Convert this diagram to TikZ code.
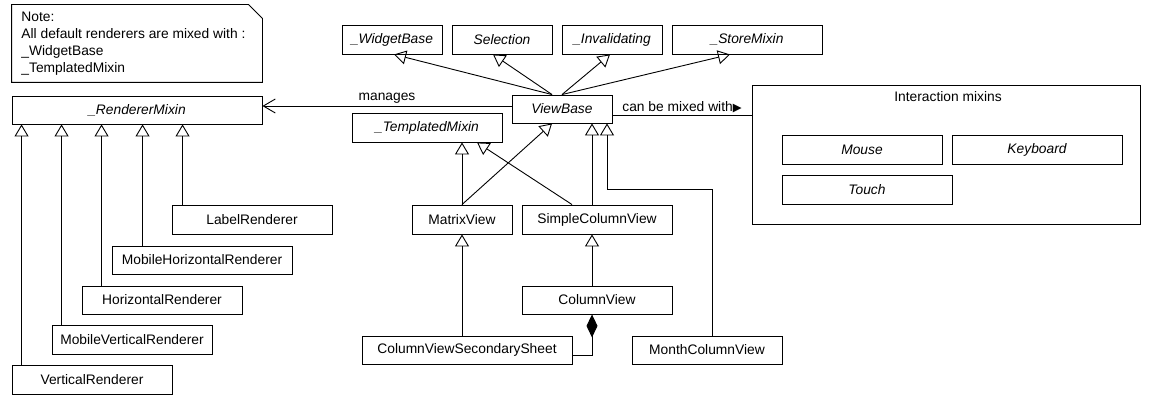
\documentclass[tikz,border=0pt]{standalone}
\usepackage{fontspec}
\setmainfont{Liberation Sans}
\newfontfamily\symfont{DejaVu Sans}
\usetikzlibrary{arrows.meta}
\begin{document}
\begin{tikzpicture}[x=1pt,y=-1pt,
  font=\fontsize{13.8}{16.5}\selectfont,
  line width=0.9pt,
  box/.style={draw, inner sep=0pt, minimum height=28pt},
  ibox/.style={box, font=\fontsize{13.8}{16.5}\selectfont\itshape},
  gen/.style={-{Triangle[open,length=12pt,width=14pt]}},
  mng/.style={-{Straight Barb[length=12pt,width=14pt]}},
  comp/.style={{Diamond[length=23pt,width=11pt]}-}]
\useasboundingbox (0,0) rectangle (1150,403);

% note
\node[inner sep=0pt, minimum width=250pt, minimum height=77pt] (note) at (137,43.5) {};
\draw (note.north west) -- ([xshift=-14pt]note.north east) -- ([yshift=-14pt]note.north east)
  -- (note.south east) -- (note.south west) -- cycle;
\node[align=left, anchor=north west, inner sep=0pt,
  font=\fontsize{13.8}{17}\selectfont] (notetext) at (21,11.5) {Note:\\All default renderers are mixed with :\\\_WidgetBase\\\_TemplatedMixin};

% renderers
\node[ibox, minimum width=250pt] (renderer) at (137,110) {\_RendererMixin};
\node[box, minimum width=160pt, minimum height=29pt] (label) at (252,219.5) {LabelRenderer};
\node[box, minimum width=180pt] (mobh) at (202,260) {MobileHorizontalRenderer};
\node[box, minimum width=160pt] (horiz) at (162,300) {HorizontalRenderer};
\node[box, minimum width=160pt, minimum height=29pt] (mobv) at (132,339.5) {MobileVerticalRenderer};
\node[box, minimum width=160pt, minimum height=29pt] (vert) at (92,379.5) {VerticalRenderer};

% top row
\node[ibox, minimum width=100pt, minimum height=29pt] (widget) at (392,39.5) {\_WidgetBase};
\node[ibox, minimum width=100pt, minimum height=29pt] (selection) at (502,39.5) {Selection};
\node[ibox, minimum width=100pt, minimum height=29pt] (invalid) at (612,39.5) {\_Invalidating};
\node[ibox, minimum width=150pt, minimum height=29pt] (store) at (747,39.5) {\_StoreMixin};

\node[ibox, minimum width=100pt] (viewbase) at (562,109) {ViewBase};
\node[ibox, minimum width=150pt, minimum height=29pt] (templ) at (427,127.5) {\_TemplatedMixin};

% interaction mixins
\node[draw, inner sep=0pt, minimum width=388pt, minimum height=139pt] (inter) at (946,154.5) {};
\node[inner sep=0pt] (intertitle) at (948,97) {Interaction mixins};
\node[ibox, minimum width=160pt, minimum height=29pt] (mouse) at (862,149.5) {Mouse};
\node[ibox, minimum width=170pt, minimum height=29pt] (keyboard) at (1037,149.5) {Keyboard};
\node[ibox, minimum width=170pt, minimum height=29pt] (touch) at (867,189.5) {Touch};

% views
\node[box, minimum width=100pt, minimum height=29pt] (matrix) at (462,219.5) {MatrixView};
\node[box, minimum width=150pt, minimum height=29pt] (simple) at (597,219.5) {SimpleColumnView};
\node[box, minimum width=150pt] (column) at (597,300) {ColumnView};
\node[box, minimum width=210pt] (sheet) at (467,350) {ColumnViewSecondarySheet};
\node[box, minimum width=150pt] (month) at (707,350) {MonthColumnView};

% renderer generalizations
\foreach \n/\dx in {vert/10, mobv/50, horiz/90, mobh/131, label/171}{
  \draw[gen] ([xshift=\dx pt]renderer.south west |- \n.north) -- ([xshift=\dx pt]renderer.south west);
}

% viewbase to top row
\draw[gen] ([xshift=-10pt]viewbase.north) -- ([xshift=2pt]widget.south);
\draw[gen] ([xshift=-10pt]viewbase.north) -- ([xshift=-9pt]selection.south);
\draw[gen] (viewbase.north) -- ([xshift=-2pt]invalid.south);
\draw[gen] (viewbase.north) -- ([xshift=-17pt]store.south);

% manages
\draw[mng] ([yshift=3pt]viewbase.west) -- ([yshift=3pt]viewbase.west -| renderer.east)
  node[midway, above, inner sep=2pt] {manages};

% can be mixed with
\draw ([yshift=-6pt]viewbase.east) -- ([yshift=-6pt]viewbase.east -| inter.west)
  node[midway, above, inner sep=2pt] {can be mixed with\raisebox{0.5pt}{\symfont\fontsize{11.5}{11.5}\selectfont ▶}};

% views generalizations
\draw[gen] (matrix.north) -- (matrix.north |- templ.south);
\draw[gen] (matrix.north) -- ([xshift=-10pt]viewbase.south);
\draw[gen] ([xshift=-25pt]simple.north) -- ([xshift=50pt]templ.south);
\draw[gen] ([xshift=-5pt]simple.north) -- ([xshift=30pt]viewbase.south);
\draw[gen] ([xshift=5pt]month.north) |- ([xshift=45pt,yshift=-66pt]viewbase.south) -- ([xshift=45pt]viewbase.south);
\draw[gen] ([xshift=-5pt]column.north) -- ([xshift=-5pt]simple.south);
\draw[gen] (matrix.south |- sheet.north) -- (matrix.south);

% composition
\draw[comp] ([xshift=-5pt]column.south) |- ([yshift=-5pt]sheet.east);
\end{tikzpicture}
\end{document}
